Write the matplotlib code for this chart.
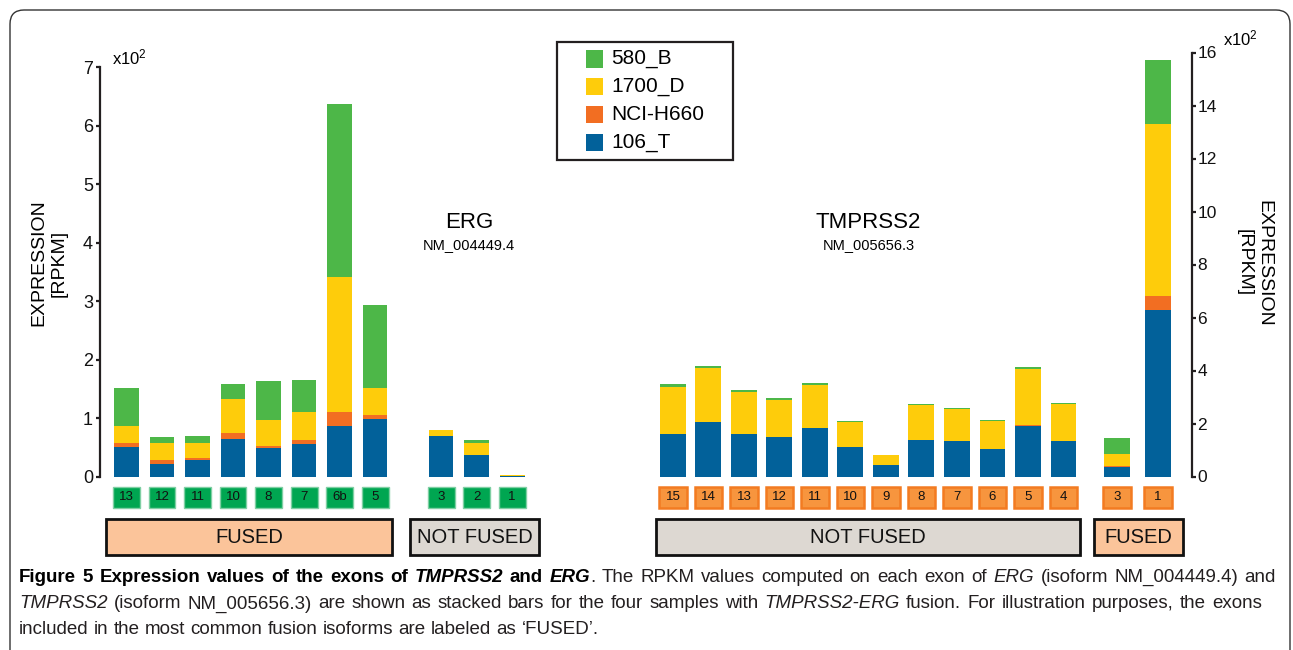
import matplotlib
matplotlib.use('Agg')
import matplotlib.pyplot as plt
from matplotlib.patches import Rectangle, FancyBboxPatch
from matplotlib.transforms import blended_transform_factory, IdentityTransform
from matplotlib import font_manager
import numpy as np

plt.rcParams['font.family'] = ['Liberation Sans', 'DejaVu Sans']
plt.rcParams['mathtext.default'] = 'regular'

# samples, bottom to top of each stack
samples = ['106_T', 'NCI-H660', '1700_D', '580_B']
colors = ['#02619a', '#f26e22', '#fecc0b', '#4db748']

# ERG exons, values in x10^2 RPKM (left axis)
erg_exons = ['13', '12', '11', '10', '8', '7', '6b', '5', '3', '2', '1']
erg_106T = [0.51, 0.22, 0.29, 0.65, 0.48, 0.55, 0.86, 0.98, 0.69, 0.36, 0.01]
erg_h660 = [0.07, 0.07, 0.02, 0.09, 0.05, 0.08, 0.25, 0.07, 0.00, 0.00, 0.00]
erg_1700D = [0.29, 0.29, 0.27, 0.58, 0.43, 0.48, 2.30, 0.46, 0.11, 0.22, 0.01]
erg_580B = [0.64, 0.09, 0.11, 0.27, 0.68, 0.55, 2.96, 1.42, 0.00, 0.04, 0.00]

# TMPRSS2 exons, values in x10^2 RPKM (right axis)
tmp_exons = ['15', '14', '13', '12', '11', '10', '9', '8', '7', '6', '5', '4', '3', '1']
tmp_106T = [1.61, 2.06, 1.61, 1.50, 1.84, 1.12, 0.44, 1.38, 1.35, 1.05, 1.91, 1.35, 0.37, 6.29]
tmp_h660 = [0.00, 0.00, 0.00, 0.00, 0.00, 0.00, 0.00, 0.00, 0.00, 0.00, 0.04, 0.00, 0.03, 0.54]
tmp_1700D = [1.77, 2.04, 1.59, 1.39, 1.62, 0.94, 0.38, 1.33, 1.20, 1.05, 2.11, 1.39, 0.46, 6.48]
tmp_580B = [0.12, 0.08, 0.07, 0.08, 0.08, 0.04, 0.00, 0.03, 0.04, 0.04, 0.08, 0.04, 0.60, 2.41]

group_labels = ['FUSED', 'NOT FUSED', 'NOT FUSED', 'FUSED']
group_sizes = [8, 3, 12, 2]

# layout (bar slots)
erg_x = np.r_[np.arange(8), 8.86 + np.arange(3)]
tmp_x = np.r_[15.39 + np.arange(12), 27.90 + np.array([0, 1.15])]
group_pads = [(0.58, 0.48), (0.87, 0.76), (0.47, 0.47), (0.65, 0.70)]

W, H = 1293, 650
fig = plt.figure(figsize=(W / 100, H / 100), dpi=100)

def fx(px):
    return px / W

def fy(py):
    return 1 - py / H

ax = fig.add_axes([fx(100), fy(476.5), fx(1192) - fx(100), fy(50) - fy(476.5)])
ax.set_xlim(-0.746, 30.01)
ax.set_ylim(0, (476.5 - 50) / 58.43)
ax2 = ax.twinx()
ax2.set_ylim(0, (476.5 - 50) / 26.5)

dark = '#231f20'

# stacked bars
bottom = np.zeros(len(erg_x))
for vals, c in zip([erg_106T, erg_h660, erg_1700D, erg_580B], colors):
    ax.bar(erg_x, vals, 0.70, bottom=bottom, color=c, linewidth=0)
    bottom += np.array(vals)

bottom = np.zeros(len(tmp_x))
for vals, c in zip([tmp_106T, tmp_h660, tmp_1700D, tmp_580B], colors):
    ax2.bar(tmp_x, vals, 0.73, bottom=bottom, color=c, linewidth=0)
    bottom += np.array(vals)

# axes styling
for s in ['top', 'bottom', 'right']:
    ax.spines[s].set_visible(False)
for s in ['top', 'bottom', 'left']:
    ax2.spines[s].set_visible(False)
ax.spines['left'].set_bounds(0, 7)
ax2.spines['right'].set_bounds(0, 16)
for sp in [ax.spines['left'], ax2.spines['right']]:
    sp.set_linewidth(1.6)
    sp.set_color(dark)
ax.set_xticks([])
ax.set_yticks(range(8))
ax2.set_yticks(range(0, 17, 2))
ax.tick_params(axis='y', direction='out', length=3, width=1.6, color=dark,
               labelsize=13, pad=2, labelcolor='#111111')
ax2.tick_params(axis='y', direction='out', length=3, width=1.6, color=dark,
                labelsize=12.5, pad=1, labelcolor='#111111')

fig.text(fx(112), fy(57), 'x10$^2$', fontsize=12, va='center', ha='left')
fig.text(fx(1223), fy(38), 'x10$^2$', fontsize=12, va='center', ha='left')

fig.text(fx(49), fy(263), 'EXPRESSION\n[RPKM]', rotation=90, fontsize=14,
         ha='center', va='center', multialignment='center', linespacing=1.25)
fig.text(fx(1254), fy(263), 'EXPRESSION\n[RPKM]', rotation=270, fontsize=14,
         ha='center', va='center', multialignment='center', linespacing=1.25)

# gene titles
fig.text(fx(469), fy(222), 'ERG', fontsize=16, ha='center', va='center')
fig.text(fx(469), fy(245), 'NM_004449.4', fontsize=10.5, ha='center', va='center')
fig.text(fx(868), fy(222), 'TMPRSS2', fontsize=16, ha='center', va='center')
fig.text(fx(869), fy(245), 'NM_005656.3', fontsize=10.5, ha='center', va='center')

# legend drawn by hand (top sample first)
fig.add_artist(Rectangle((fx(557), fy(160)), fx(733) - fx(557), fy(42) - fy(160),
                         transform=fig.transFigure, facecolor='white',
                         edgecolor=dark, linewidth=1.6))
for row, i in enumerate([3, 2, 1, 0]):
    yc = 59 + row * 27.7
    fig.add_artist(Rectangle((fx(586), fy(yc + 8.5)), fx(17), 17 / H,
                             transform=fig.transFigure, facecolor=colors[i], linewidth=0))
    fig.text(fx(611), fy(yc), samples[i], fontsize=15, ha='left', va='center')

# exon boxes and group boxes
trans = blended_transform_factory(ax.transData, fig.transFigure)
for xs, names, fc, ec, lw, bw in [(erg_x, erg_exons, '#00a651', '#7fcfa3', 1.0, 0.76),
                                  (tmp_x, tmp_exons, '#f7953e', '#f37b21', 1.8, 0.78)]:
    for x, name in zip(xs, names):
        ax.add_patch(Rectangle((x - bw / 2, fy(508)), bw, 21 / H, transform=trans,
                               facecolor=fc, edgecolor=ec, linewidth=lw, clip_on=False))
        ax.text(x, fy(497.5), name, transform=trans, fontsize=9.5, ha='center',
                va='center', color='#111111')

all_x = np.r_[erg_x, tmp_x]
start = 0
for label, n, (pl, pr) in zip(group_labels, group_sizes, group_pads):
    x0, x1 = all_x[start] - pl, all_x[start + n - 1] + pr
    fc = '#fbc49a' if label == 'FUSED' else '#ddd8d2'
    ax.add_patch(Rectangle((x0, fy(555)), x1 - x0, 36 / H, transform=trans,
                           facecolor=fc, edgecolor='#111111', linewidth=2.0, clip_on=False))
    ax.text((x0 + x1) / 2, fy(537.5), label, transform=trans, fontsize=14.5,
            ha='center', va='center', color='#111111')
    start += n

# outer frame
fig.add_artist(FancyBboxPatch((10, -60), 1280, 700, boxstyle='round,pad=0,rounding_size=14',
                              transform=IdentityTransform(), facecolor='none',
                              edgecolor='#333333', linewidth=1.0))

# caption
names = {f.name for f in font_manager.fontManager.ttflist}
cap_family = 'Liberation Sans Narrow' if 'Liberation Sans Narrow' in names else 'Liberation Sans'
cap_size = 15 if cap_family == 'Liberation Sans Narrow' else 13.5
base = dict(family=cap_family, size=cap_size, color='#231f20')
B = dict(base, weight='bold', color='black')
BI = dict(base, weight='bold', style='italic', color='black')
I = dict(base, style='italic')
N = dict(base)

cap_lines = [
    ([('Figure 5 Expression values of the exons of ', B), ('TMPRSS2', BI), (' and ', B),
      ('ERG', BI), ('. The RPKM values computed on each exon of ', N), ('ERG', I),
      (' (isoform NM_004449.4) and', N)], 577, 1276),
    ([('TMPRSS2', I), (' (isoform NM_005656.3) are shown as stacked bars for the four samples with ', N),
      ('TMPRSS2-ERG', I), (' fusion. For illustration purposes, the exons', N)], 604, 1262),
    ([('included in the most common fusion isoforms are labeled as \u2018FUSED\u2019.', N)], 630, None),
]

renderer = fig.canvas.get_renderer()
ident = IdentityTransform()

def to_words(runs):
    words = [[]]
    for txt, props in runs:
        parts = txt.split(' ')
        for i, p in enumerate(parts):
            if i > 0:
                words.append([])
            if p:
                words[-1].append((p, props))
    return [w for w in words if w]

space_t = fig.text(0, 0, 'a a', **N)
nospace_t = fig.text(0, 0, 'aa', **N)
space_w = space_t.get_window_extent(renderer).width - nospace_t.get_window_extent(renderer).width
space_t.remove()
nospace_t.remove()

for runs, ypix, xend in cap_lines:
    words = to_words(runs)
    placed = []
    total = 0
    for w in words:
        pieces = []
        for p, props in w:
            t = fig.text(0, 0, p, transform=ident, va='center', ha='left', **props)
            pw = t.get_window_extent(renderer).width
            pieces.append((t, pw))
            total += pw
        placed.append(pieces)
    x0 = 19
    gap = space_w if xend is None else (xend - x0 - total) / (len(words) - 1)
    gap = max(gap, space_w * 0.6)
    x = x0
    for pieces in placed:
        for t, pw in pieces:
            t.set_position((x, H - ypix))
            x += pw
        x += gap

fig.savefig('out.png', dpi=100)
